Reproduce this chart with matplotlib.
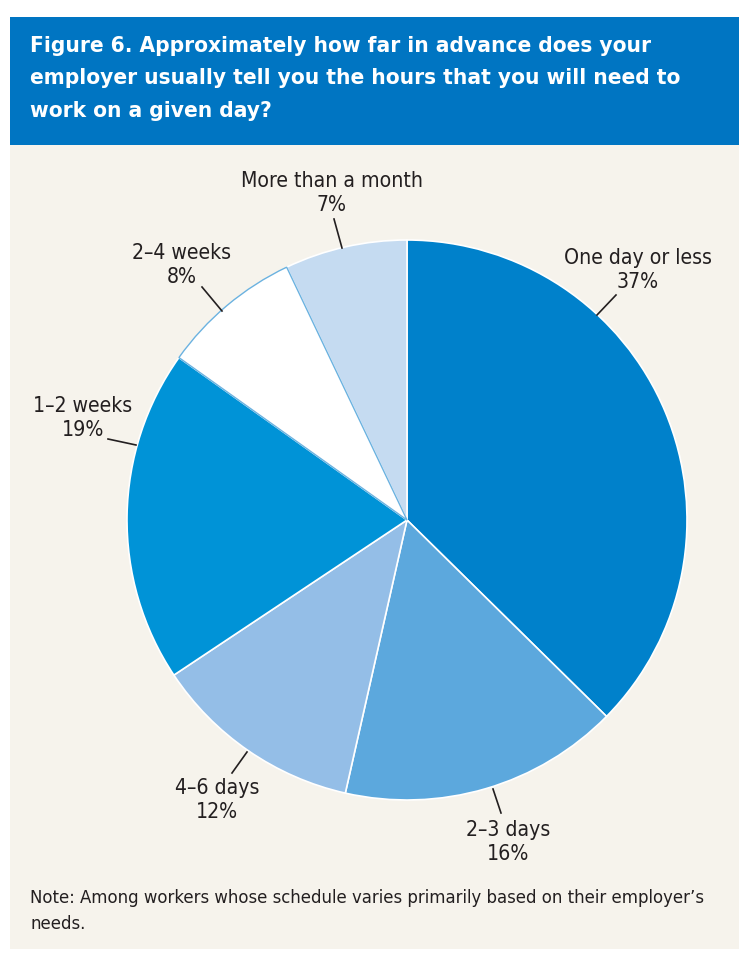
import matplotlib
matplotlib.use("Agg")
import matplotlib.pyplot as plt
from matplotlib import font_manager
from matplotlib.patches import Rectangle

# data, clockwise from 12 o'clock
categories = ["One day or less", "2\u20133 days", "4\u20136 days", "1\u20132 weeks",
              "2\u20134 weeks", "More than a month"]
shares = [37, 16, 12, 19, 8, 7]
colors = ["#0081CB", "#5CA8DD", "#94BEE7", "#0093D7", "#FFFFFF", "#C5DBF1"]

title = ("Figure 6. Approximately how far in advance does your\n"
         "employer usually tell you the hours that you will need to\n"
         "work on a given day?")
note = ("Note: Among workers whose schedule varies primarily based on their employer\u2019s\n"
        "needs.")

# label placement (pixel coords from top-left): text centre, leader start, leader end
label_pos = [(638, 270, (616, 296), (597, 316)),
             (508, 842, (501, 814), (493, 790)),
             (217, 800, (232, 774), (247, 753)),
             (83, 418, (108, 440), (136, 446)),
             (182, 265, (202, 288), (222, 312)),
             (332, 193, (334, 220), (342, 249))]

# look for a narrow face (DejaVu first); fall back to Liberation Sans
fonts = font_manager.fontManager.ttflist
narrow = [f for f in fonts if f.stretch in ("condensed", "semi-condensed", "extra-condensed")
          or "Narrow" in f.name or "Condensed" in f.name]
narrow.sort(key=lambda f: 0 if f.name == "DejaVu Sans" else 1)
if narrow:
    fam, stretch, scale = narrow[0].name, narrow[0].stretch, 1.0
else:
    fam, stretch, scale = "Liberation Sans", "normal", 0.86
plt.rcParams["font.family"] = [fam, "DejaVu Sans"]
plt.rcParams["font.stretch"] = stretch

W, H = 749, 962
fig = plt.figure(figsize=(W / 100, H / 100), dpi=100)
fig.patch.set_facecolor("white")
ax = fig.add_axes([0, 0, 1, 1])

# background panels
ax.add_patch(Rectangle((10, H - 950), 729, 950 - 146, facecolor="#F6F3EC", edgecolor="none", zorder=0))
ax.add_patch(Rectangle((10, H - 146), 729, 146 - 18, facecolor="#0075C2", edgecolor="none", zorder=0))

wedges, _ = ax.pie(shares, colors=colors, startangle=90, counterclock=False,
                   center=(407, H - 521), radius=280,
                   wedgeprops=dict(edgecolor="white", linewidth=1.2))
wedges[4].set_edgecolor("#6BB2E0")
wedges[4].set_linewidth(1.0)
for w in wedges:
    w.set_zorder(2)
wedges[4].set_zorder(3)

for cat, val, (cx, cy, p0, p1) in zip(categories, shares, label_pos):
    ax.text(cx, H - cy, f"{cat}\n{val}%", ha="center", va="center", fontsize=15.2 * scale,
            color="#231F20", linespacing=1.28, zorder=5)
    ax.plot([p0[0], p1[0]], [H - p0[1], H - p1[1]], color="#231F20", lw=1.2, zorder=5)

ax.text(30, H - 36, title, ha="left", va="top", fontsize=16.2 * scale, fontweight="bold",
        color="white", linespacing=1.78, zorder=5)
ax.text(30, H - 889, note, ha="left", va="top", fontsize=13.2 * scale, color="#231F20",
        linespacing=1.58, zorder=5)

ax.set_xlim(0, W)
ax.set_ylim(0, H)
ax.set_aspect("auto")
ax.axis("off")

fig.savefig("out.png", dpi=100)
